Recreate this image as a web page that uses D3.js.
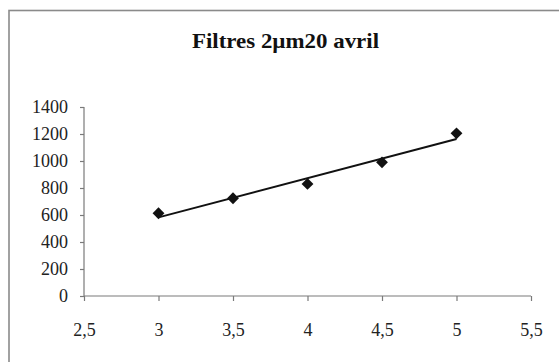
<!DOCTYPE html>
<html><head><meta charset="utf-8">
<script src="https://cdn.jsdelivr.net/npm/d3@7"></script>
<style>
html,body{margin:0;padding:0;background:#fff;}
svg{display:block;}
</style></head>
<body>
<svg id="chart" width="559" height="362"></svg>
<script>
const title = "Filtres 2µm20 avril";
const xValues = [3, 3.5, 4, 4.5, 5];
const yValues = [613, 724, 830, 990, 1205];
const xTicks = [2.5, 3, 3.5, 4, 4.5, 5, 5.5];
const yTicks = [0, 200, 400, 600, 800, 1000, 1200, 1400];

const FONT = "'Liberation Serif', 'Times New Roman', serif";
const svg = d3.select("#chart");

// outer frame (right/bottom edges beyond the picture)
svg.append("rect").attr("x", 9).attr("y", 10.5).attr("width", 600).attr("height", 400)
  .attr("fill", "none").attr("stroke", "#8a8a8a").attr("stroke-width", 1.6);

const x = d3.scaleLinear().domain([2.5, 5.5]).range([84, 531]);
const y = d3.scaleLinear().domain([0, 1400]).range([296, 107]);

svg.append("text").attr("x", 192).attr("y", 47.5)
  .style("font-family", FONT).style("font-weight", "bold").style("font-size", "21px")
  .style("fill", "#111")
  .attr("textLength", 187).attr("lengthAdjust", "spacingAndGlyphs")
  .text(title);

const fmt = d => String(d).replace(".", ",");

const yAxis = svg.append("g").attr("transform", `translate(${x.range()[0]},0)`)
  .call(d3.axisLeft(y).tickValues(yTicks).tickSize(4).tickPadding(12).tickFormat(d => d));
const xAxis = svg.append("g").attr("transform", `translate(0,${y.range()[0]})`)
  .call(d3.axisBottom(x).tickValues(xTicks).tickSize(5).tickPadding(22).tickFormat(fmt));

[yAxis, xAxis].forEach(g => {
  g.attr("font-family", null).attr("font-size", null);
  g.selectAll("path,line").attr("stroke", "#7a7a7a").attr("stroke-width", 1.2);
  g.selectAll("text").style("font-size", "18px").style("fill", "#222")
    .style("font-family", FONT);
});
xAxis.select(".domain").attr("d", `M${x.range()[0]},0H${x.range()[1]}`);
yAxis.select(".domain").attr("d", `M0,${y.range()[0]}V${y.range()[1]}`);

// linear trend line from data
const mx = d3.mean(xValues), my = d3.mean(yValues);
const slope = d3.sum(xValues, (v, i) => (v - mx) * (yValues[i] - my)) / d3.sum(xValues, v => (v - mx) ** 2);
const icpt = my - slope * mx;
const x0 = d3.min(xValues), x1 = d3.max(xValues);
svg.append("line")
  .attr("x1", x(x0)).attr("y1", y(icpt + slope * x0))
  .attr("x2", x(x1)).attr("y2", y(icpt + slope * x1))
  .attr("stroke", "#111").attr("stroke-width", 2);

// diamond markers
svg.append("g").selectAll("path").data(xValues).join("path")
  .attr("transform", (d, i) => `translate(${x(d)},${y(yValues[i])}) rotate(45)`)
  .attr("d", d3.symbol().type(d3.symbolSquare).size(70))
  .attr("fill", "#111");
</script>
</body></html>
